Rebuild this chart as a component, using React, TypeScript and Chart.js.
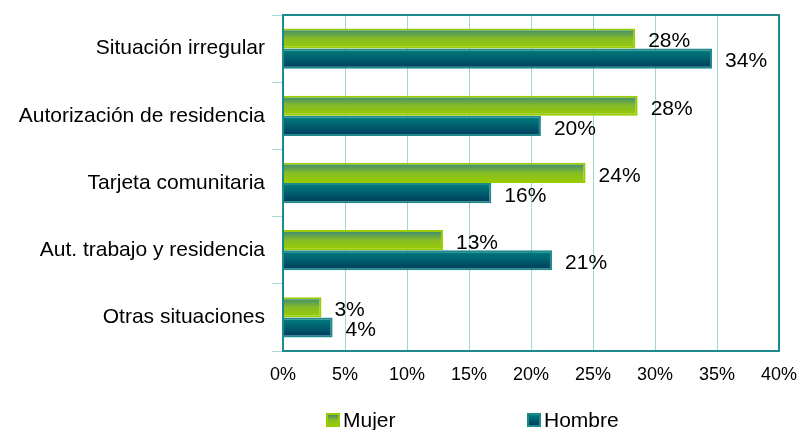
import React, { useEffect, useRef } from 'react';
import { Chart, registerables } from 'chart.js';

Chart.register(...registerables);

const categories = [
  'Situación irregular',
  'Autorización de residencia',
  'Tarjeta comunitaria',
  'Aut. trabajo y residencia',
  'Otras situaciones',
];
const mujer = [28.4, 28.6, 24.4, 12.9, 3.1];
const hombre = [34.6, 20.8, 16.8, 21.7, 4.0];
const mujerLabels = ['28%', '28%', '24%', '13%', '3%'];
const hombreLabels = ['34%', '20%', '16%', '21%', '4%'];
const seriesNames = ['Mujer', 'Hombre'];
const xMax = 40;
const xStep = 5;

const FONT = '"Liberation Sans", Arial, Helvetica, sans-serif';
const CAT_PCT = 0.6;

const mujerStops: [number, string][] = [
  [0, '#35837f'],
  [0.5, '#86bc26'],
  [1, '#99cc00'],
];
const hombreStops: [number, string][] = [
  [0, '#00817f'],
  [1, '#003a5c'],
];

function makeGrad(stops: [number, string][], fallback: string) {
  return (ctx: any) => {
    const chart = ctx.chart;
    const ys = chart.scales && chart.scales.y;
    if (ctx.type !== 'data' || !ys || !chart.chartArea) return fallback;
    const center = ys.getPixelForValue(ctx.dataIndex);
    const cat = ys.height / categories.length;
    const barH = (cat * CAT_PCT) / 2;
    const top = ctx.datasetIndex === 0 ? center - barH : center;
    const g = chart.ctx.createLinearGradient(0, top, 0, top + barH);
    stops.forEach(([o, c]) => g.addColorStop(o, c));
    return g;
  };
}

const decor = {
  id: 'decor',
  afterDatasetsDraw(chart: any) {
    const { ctx, chartArea: a } = chart;
    ctx.save();
    ctx.strokeStyle = '#1f8a8c';
    ctx.lineWidth = 2;
    ctx.strokeRect(a.left, a.top, a.right - a.left, a.bottom - a.top);

    ctx.font = '21px ' + FONT;
    ctx.fillStyle = '#000';
    ctx.textBaseline = 'middle';
    ctx.textAlign = 'left';
    [mujerLabels, hombreLabels].forEach((labels, di) => {
      const meta = chart.getDatasetMeta(di);
      meta.data.forEach((el: any, i: number) => {
        ctx.fillText(labels[i], el.x + 13, el.y + 3);
      });
    });
    ctx.restore();
  },
  afterDraw(chart: any) {
    const { ctx } = chart;
    ctx.save();
    const y = 420;
    const xs = [327, 528];
    const stopsList = [mujerStops, hombreStops];
    const borders = ['#99cc00', '#1f8a8c'];
    seriesNames.forEach((name, i) => {
      const x = xs[i];
      const g = ctx.createLinearGradient(0, y - 6, 0, y + 6);
      stopsList[i].forEach(([o, c]) => g.addColorStop(o, c));
      ctx.fillStyle = g;
      ctx.fillRect(x, y - 6, 12, 12);
      ctx.strokeStyle = borders[i];
      ctx.lineWidth = 2;
      ctx.strokeRect(x, y - 6, 12, 12);
      ctx.fillStyle = '#000';
      ctx.font = '21px ' + FONT;
      ctx.textBaseline = 'middle';
      ctx.textAlign = 'left';
      ctx.fillText(name, x + 16, y + 1);
    });
    ctx.restore();
  },
};

export default function App() {
  const ref = useRef<HTMLCanvasElement | null>(null);
  useEffect(() => {
    document.body.style.margin = '0';
    const canvas = ref.current;
    if (!canvas) return;
    const chart = new Chart(canvas, {
      type: 'bar',
      data: {
        labels: categories,
        datasets: [
          {
            label: seriesNames[0],
            data: mujer,
            backgroundColor: makeGrad(mujerStops, '#99cc00'),
            borderColor: '#99cc00',
            borderWidth: 2,
            categoryPercentage: CAT_PCT,
            barPercentage: 1,
          },
          {
            label: seriesNames[1],
            data: hombre,
            backgroundColor: makeGrad(hombreStops, '#006070'),
            borderColor: '#1f8a8c',
            borderWidth: 2,
            categoryPercentage: CAT_PCT,
            barPercentage: 1,
          },
        ] as any,
      },
      options: {
        indexAxis: 'y',
        responsive: false,
        animation: false,
        layout: { padding: { top: 15, right: 25, bottom: 39, left: 0 } },
        plugins: { legend: { display: false }, tooltip: { enabled: false } },
        scales: {
          x: {
            min: 0,
            max: xMax,
            ticks: {
              stepSize: xStep,
              callback: (v: any) => v + '%',
              color: '#000',
              font: { family: FONT, size: 18 },
              padding: 13,
            },
            grid: { color: '#a6d5d6', lineWidth: 1, drawTicks: false },
            border: { display: false },
            afterFit: (s: any) => {
              s.height = 40;
              s.paddingLeft = 0;
              s.paddingRight = 0;
            },
          },
          y: {
            ticks: {
              color: '#000',
              font: { family: FONT, size: 21 },
              padding: 7,
            },
            grid: {
              offset: true,
              drawOnChartArea: false,
              drawTicks: true,
              tickLength: 11,
              color: '#a8d8d8',
            },
            border: { display: false },
            afterFit: (s: any) => {
              s.width = 283;
              s.paddingTop = 0;
              s.paddingBottom = 0;
            },
          },
        },
      },
      plugins: [decor],
    });
    return () => chart.destroy();
  }, []);
  return (
    <div style={{ width: 804, height: 430 }}>
      <canvas ref={ref} width={804} height={430} />
    </div>
  );
}
